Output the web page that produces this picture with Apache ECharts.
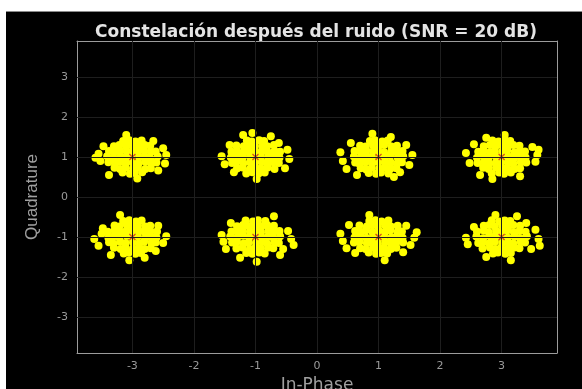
<!DOCTYPE html>
<html>
<head>
<meta charset="utf-8">
<script src="https://cdn.jsdelivr.net/npm/echarts@6/dist/echarts.min.js"></script>
<style>
  html, body { margin: 0; padding: 0; background: #fff; }
  #chart { width: 582px; height: 389px; }
</style>
</head>
<body>
<div id="chart"></div>
<script>
// ---- Data ----
const chartTitle = 'Constelación después del ruido (SNR = 20 dB)';
const xName = 'In-Phase';
const yName = 'Quadrature';
const xTicks = [-3, -2, -1, 0, 1, 2, 3];
const yTicks = [-3, -2, -1, 0, 1, 2, 3];

// Ideal 8-QAM constellation points
const idealI = [-3, -1, 1, 3, -3, -1, 1, 3];
const idealQ = [1, 1, 1, 1, -1, -1, -1, -1];

// Received noisy symbols, grouped by cluster
const rx_m3_p1 = [
  [-3.41,1.02],[-3.31,0.98],[-3.19,1.01],[-3.10,0.97],[-3.01,1.03],[-2.89,0.99],[-2.80,1.02],[-2.71,0.97],[-2.59,1.01],
  [-3.38,1.15],[-3.29,1.12],[-3.20,1.16],[-3.09,1.13],[-2.99,1.15],[-2.91,1.12],[-2.81,1.16],[-2.70,1.13],[-2.62,1.14],
  [-3.39,0.87],[-3.28,0.84],[-3.21,0.88],[-3.11,0.85],[-3.00,0.87],[-2.90,0.84],[-2.79,0.88],[-2.69,0.85],[-2.61,0.86],
  [-3.30,1.27],[-3.21,1.30],[-3.10,1.26],[-3.00,1.29],[-2.90,1.27],[-2.80,1.30],[-2.71,1.28],
  [-3.29,0.73],[-3.20,0.70],[-3.11,0.74],[-2.99,0.71],[-2.91,0.73],[-2.79,0.70],[-2.70,0.72],
  [-3.15,1.40],[-3.05,1.42],[-2.95,1.39],[-2.85,1.41],
  [-3.16,0.61],[-3.04,0.58],[-2.96,0.60],[-2.84,0.62],
  [-3.55,1.08],[-3.52,0.90],[-2.45,1.05],[-2.47,0.84],[-2.50,1.22],[-3.47,1.27],[-2.58,0.66],[-3.10,1.55],[-2.92,0.46],[-3.38,0.55],[-2.66,1.40],[-3.60,0.98]
];
const rx_m1_p1 = [
  [-1.40,0.99],[-1.29,1.03],[-1.21,0.98],[-1.09,1.01],[-0.99,0.97],[-0.91,1.02],[-0.79,0.99],[-0.70,1.03],[-0.61,0.98],
  [-1.39,1.13],[-1.30,1.16],[-1.19,1.12],[-1.11,1.15],[-1.00,1.13],[-0.89,1.16],[-0.80,1.12],[-0.69,1.15],[-0.60,1.13],
  [-1.38,0.85],[-1.31,0.88],[-1.20,0.84],[-1.09,0.87],[-1.01,0.85],[-0.90,0.88],[-0.81,0.84],[-0.71,0.87],[-0.62,0.85],
  [-1.31,1.29],[-1.19,1.27],[-1.10,1.30],[-1.01,1.26],[-0.89,1.29],[-0.81,1.27],[-0.70,1.30],
  [-1.30,0.71],[-1.21,0.74],[-1.09,0.70],[-1.00,0.73],[-0.91,0.71],[-0.80,0.74],[-0.69,0.70],
  [-1.14,1.41],[-1.06,1.39],[-0.94,1.42],[-0.86,1.40],
  [-1.15,0.59],[-1.05,0.62],[-0.95,0.59],[-0.85,0.61],
  [-1.55,1.02],[-0.45,0.95],[-0.48,1.18],[-1.50,0.82],[-1.20,1.55],[-0.75,1.52],[-0.52,0.72],[-1.42,1.30],[-0.98,0.45],[-1.35,0.62],[-0.62,1.35],[-1.05,1.60]
];
const rx_p1_p1 = [
  [0.60,1.01],[0.70,0.97],[0.81,1.02],[0.89,0.98],[1.01,1.01],[1.10,0.97],[1.19,1.03],[1.31,0.99],[1.40,1.02],
  [0.61,1.15],[0.71,1.12],[0.80,1.16],[0.91,1.13],[0.99,1.15],[1.09,1.12],[1.21,1.16],[1.29,1.13],[1.39,1.15],
  [0.62,0.86],[0.69,0.83],[0.79,0.87],[0.90,0.85],[1.00,0.88],[1.11,0.84],[1.20,0.86],[1.30,0.83],[1.38,0.87],
  [0.70,1.28],[0.79,1.26],[0.91,1.29],[1.00,1.27],[1.09,1.30],[1.21,1.26],[1.30,1.28],
  [0.71,0.72],[0.80,0.69],[0.89,0.73],[1.01,0.71],[1.10,0.74],[1.19,0.70],[1.29,0.72],
  [0.86,1.40],[0.94,1.42],[1.06,1.39],[1.15,1.41],
  [0.84,0.60],[0.96,0.58],[1.04,0.61],[1.16,0.59],
  [0.38,1.12],[0.42,0.90],[1.55,1.05],[1.50,0.80],[0.55,1.35],[1.45,1.30],[0.65,0.55],[1.25,0.50],[0.90,1.58],[1.35,0.62],[0.48,0.70],[1.20,1.50]
];
const rx_p3_p1 = [
  [2.60,0.98],[2.71,1.02],[2.79,0.99],[2.90,1.03],[3.00,0.98],[3.11,1.01],[3.20,0.97],[3.29,1.02],[3.39,0.99],
  [2.62,1.13],[2.70,1.16],[2.81,1.12],[2.89,1.15],[3.01,1.13],[3.09,1.16],[3.21,1.12],[3.30,1.15],[3.38,1.14],
  [2.61,0.85],[2.72,0.88],[2.80,0.84],[2.91,0.87],[2.99,0.85],[3.10,0.88],[3.19,0.84],[3.31,0.87],[3.40,0.86],
  [2.71,1.27],[2.81,1.30],[2.90,1.26],[3.01,1.29],[3.10,1.27],[3.19,1.30],[3.29,1.28],
  [2.70,0.73],[2.79,0.70],[2.91,0.74],[3.00,0.71],[3.09,0.73],[3.21,0.70],[3.30,0.72],
  [2.85,1.41],[2.95,1.39],[3.05,1.42],[3.14,1.40],
  [2.84,0.59],[2.96,0.61],[3.04,0.58],[3.15,0.61],
  [2.42,1.10],[2.48,0.85],[3.58,1.05],[3.55,0.88],[2.55,1.32],[3.50,1.25],[2.65,0.55],[3.30,0.52],[3.05,1.55],[2.75,1.48],[3.60,1.18],[2.85,0.45]
];
const rx_m3_m1 = [
  [-3.39,-1.02],[-3.30,-0.98],[-3.21,-1.01],[-3.09,-0.97],[-3.00,-1.02],[-2.91,-0.99],[-2.79,-1.03],[-2.70,-0.98],[-2.61,-1.01],
  [-3.40,-0.87],[-3.29,-0.84],[-3.19,-0.88],[-3.10,-0.85],[-3.01,-0.87],[-2.90,-0.84],[-2.80,-0.88],[-2.71,-0.85],[-2.60,-0.86],
  [-3.38,-1.13],[-3.31,-1.16],[-3.20,-1.12],[-3.11,-1.15],[-2.99,-1.13],[-2.89,-1.16],[-2.81,-1.12],[-2.69,-1.15],[-2.62,-1.14],
  [-3.29,-0.71],[-3.21,-0.74],[-3.09,-0.70],[-3.00,-0.73],[-2.91,-0.71],[-2.79,-0.74],[-2.71,-0.72],
  [-3.30,-1.27],[-3.19,-1.30],[-3.11,-1.26],[-2.99,-1.29],[-2.89,-1.27],[-2.80,-1.30],[-2.70,-1.28],
  [-3.15,-0.60],[-3.05,-0.58],[-2.94,-0.61],[-2.85,-0.59],
  [-3.14,-1.41],[-3.06,-1.39],[-2.95,-1.42],[-2.86,-1.40],
  [-3.62,-1.05],[-3.55,-1.22],[-2.45,-0.98],[-2.50,-1.15],[-3.48,-0.78],[-2.58,-0.72],[-3.20,-0.45],[-2.80,-1.52],[-3.35,-1.45],[-2.62,-1.35],[-3.05,-1.58],[-3.50,-0.92]
];
const rx_m1_m1 = [
  [-1.41,-0.99],[-1.30,-1.02],[-1.20,-0.97],[-1.10,-1.01],[-1.01,-0.98],[-0.90,-1.03],[-0.80,-0.99],[-0.71,-1.02],[-0.60,-0.98],
  [-1.39,-0.86],[-1.29,-0.88],[-1.21,-0.84],[-1.09,-0.87],[-1.00,-0.85],[-0.91,-0.88],[-0.79,-0.84],[-0.70,-0.87],[-0.61,-0.85],
  [-1.38,-1.14],[-1.30,-1.12],[-1.19,-1.16],[-1.11,-1.13],[-0.99,-1.15],[-0.89,-1.12],[-0.81,-1.16],[-0.69,-1.13],[-0.62,-1.15],
  [-1.30,-0.73],[-1.20,-0.70],[-1.10,-0.74],[-0.99,-0.71],[-0.90,-0.73],[-0.81,-0.70],[-0.70,-0.72],
  [-1.31,-1.29],[-1.21,-1.26],[-1.09,-1.30],[-1.00,-1.27],[-0.91,-1.29],[-0.79,-1.26],[-0.71,-1.28],
  [-1.16,-0.59],[-1.04,-0.61],[-0.96,-0.58],[-0.84,-0.60],
  [-1.15,-1.40],[-1.05,-1.42],[-0.94,-1.39],[-0.85,-1.41],
  [-1.55,-0.95],[-1.52,-1.12],[-0.42,-1.05],[-0.47,-0.85],[-1.40,-0.65],[-0.55,-1.30],[-1.25,-1.52],[-0.70,-0.48],[-0.60,-1.45],[-1.48,-1.30],[-0.98,-1.62],[-0.38,-1.20]
];
const rx_p1_m1 = [
  [0.61,-1.01],[0.70,-0.98],[0.80,-1.02],[0.91,-0.99],[1.00,-1.03],[1.09,-0.98],[1.21,-1.01],[1.30,-0.97],[1.39,-1.02],
  [0.62,-0.85],[0.71,-0.88],[0.79,-0.84],[0.90,-0.87],[1.01,-0.85],[1.10,-0.88],[1.19,-0.84],[1.31,-0.87],[1.38,-0.86],
  [0.60,-1.14],[0.69,-1.12],[0.81,-1.15],[0.89,-1.13],[0.99,-1.16],[1.11,-1.12],[1.20,-1.15],[1.29,-1.13],[1.40,-1.14],
  [0.69,-0.71],[0.81,-0.74],[0.90,-0.70],[0.99,-0.73],[1.11,-0.71],[1.20,-0.74],[1.31,-0.72],
  [0.70,-1.28],[0.79,-1.30],[0.91,-1.27],[1.00,-1.29],[1.09,-1.26],[1.20,-1.30],[1.29,-1.27],
  [0.85,-0.60],[0.95,-0.58],[1.05,-0.61],[1.16,-0.59],
  [0.84,-1.39],[0.96,-1.42],[1.04,-1.40],[1.14,-1.41],
  [0.38,-0.92],[0.42,-1.10],[1.58,-1.02],[1.52,-1.20],[0.52,-0.70],[1.45,-0.72],[0.62,-1.40],[1.40,-1.38],[1.10,-1.58],[0.85,-0.45],[0.48,-1.28],[1.62,-0.88]
];
const rx_p3_m1 = [
  [2.59,-0.99],[2.70,-1.03],[2.81,-0.98],[2.90,-1.01],[2.99,-0.97],[3.10,-1.02],[3.21,-0.99],[3.30,-1.03],[3.41,-0.98],
  [2.60,-0.86],[2.71,-0.84],[2.79,-0.88],[2.91,-0.85],[3.00,-0.87],[3.09,-0.84],[3.20,-0.88],[3.29,-0.85],[3.39,-0.87],
  [2.62,-1.15],[2.70,-1.13],[2.80,-1.16],[2.89,-1.12],[3.01,-1.15],[3.10,-1.13],[3.19,-1.16],[3.31,-1.12],[3.38,-1.14],
  [2.71,-0.72],[2.80,-0.70],[2.89,-0.74],[3.01,-0.71],[3.11,-0.73],[3.19,-0.70],[3.30,-0.72],
  [2.69,-1.29],[2.81,-1.26],[2.90,-1.30],[2.99,-1.27],[3.10,-1.29],[3.21,-1.26],[3.29,-1.28],
  [2.84,-0.58],[2.96,-0.61],[3.05,-0.59],[3.14,-0.60],
  [2.86,-1.41],[2.94,-1.39],[3.06,-1.42],[3.15,-1.40],
  [3.60,-1.05],[3.55,-0.82],[2.42,-1.02],[2.45,-1.18],[3.48,-1.30],[2.55,-0.75],[3.25,-0.48],[2.75,-1.50],[3.40,-0.65],[3.62,-1.22],[2.90,-0.45],[3.15,-1.58]
];

// ---- Build options ----
const received = [].concat(rx_m3_p1, rx_m1_p1, rx_p1_p1, rx_p3_p1, rx_m3_m1, rx_m1_m1, rx_p1_m1, rx_p3_m1);
const ideal = idealI.map((v, i) => [v, idealQ[i]]);

const axisGrey = '#9c9c9c';
const labelGrey = '#9a9a9a';
const gridGrey = '#1e1e1e';
const AX_MIN = -3.9, AX_MAX = 3.9;

function mainAxis(ticks, extra) {
  return Object.assign({
    type: 'value',
    min: AX_MIN,
    max: AX_MAX,
    axisLine: { show: true, onZero: false, lineStyle: { color: axisGrey, width: 1 } },
    axisTick: { show: true, inside: true, length: 4, customValues: ticks, lineStyle: { color: axisGrey } },
    axisLabel: { customValues: ticks, color: labelGrey, fontFamily: 'DejaVu Sans', fontSize: 11 },
    splitLine: { show: false }
  }, extra);
}

const chart = echarts.init(document.getElementById('chart'), null, { renderer: 'canvas' });
chart.setOption({
  backgroundColor: '#000000',
  animation: false,
  title: {
    text: chartTitle,
    left: 90,
    top: 19,
    textStyle: { color: '#e4e4e4', fontFamily: 'DejaVu Sans', fontWeight: 'bold', fontSize: 17 }
  },
  grid: { left: 77, right: 25, top: 41, bottom: 36, show: false, outerBoundsMode: 'none', containLabel: false },
  xAxis: [
    mainAxis(xTicks, {
      position: 'bottom',
      name: xName,
      nameLocation: 'middle',
      nameGap: 24,
      nameTextStyle: { color: '#a0a0a0', fontFamily: 'DejaVu Sans', fontSize: 17 },
      axisLabel: { customValues: xTicks, color: labelGrey, fontFamily: 'DejaVu Sans', fontSize: 11, margin: 8 }
    }),
    mainAxis(xTicks, { position: 'top', axisLabel: { show: false } })
  ],
  yAxis: [
    mainAxis(yTicks, {
      position: 'left',
      name: yName,
      nameLocation: 'middle',
      nameGap: 36,
      nameRotate: 90,
      nameTextStyle: { color: '#a0a0a0', fontFamily: 'Liberation Sans', fontSize: 17 },
      axisLabel: { customValues: yTicks, color: labelGrey, fontFamily: 'DejaVu Sans', fontSize: 11, margin: 9 }
    }),
    mainAxis(yTicks, { position: 'right', axisLabel: { show: false } })
  ],
  graphic: [
    { type: 'rect', shape: { x: 0, y: 0, width: 582, height: 11 }, style: { fill: '#ffffff' }, z: 100 },
    { type: 'rect', shape: { x: 0, y: 0, width: 6, height: 389 }, style: { fill: '#ffffff' }, z: 100 },
    { type: 'line', shape: { x1: 6, y1: 11.5, x2: 582, y2: 11.5 }, style: { stroke: '#8a8a8a', lineWidth: 1 }, z: 100 }
  ],
  series: [
    {
      name: 'Rejilla',
      type: 'scatter',
      data: [],
      silent: true,
      markLine: {
        silent: true,
        symbol: 'none',
        label: { show: false },
        lineStyle: { color: gridGrey, type: 'solid', width: 1 },
        data: xTicks.map(v => ({ xAxis: v })).concat(yTicks.map(v => ({ yAxis: v })))
      },
      z: 1
    },
    {
      name: 'Recibidos',
      type: 'scatter',
      data: received,
      symbol: 'circle',
      symbolSize: 8,
      itemStyle: { color: '#ffff00', opacity: 1, borderWidth: 0 },
      z: 2
    },
    {
      name: 'Ideal',
      type: 'scatter',
      data: ideal,
      symbol: 'path://M0,0L10,10M10,0L0,10',
      symbolSize: 6,
      itemStyle: { color: 'rgba(0,0,0,0)', borderColor: '#d9531e', borderWidth: 1.3, opacity: 1 },
      z: 3
    }
  ]
});
</script>
</body>
</html>
